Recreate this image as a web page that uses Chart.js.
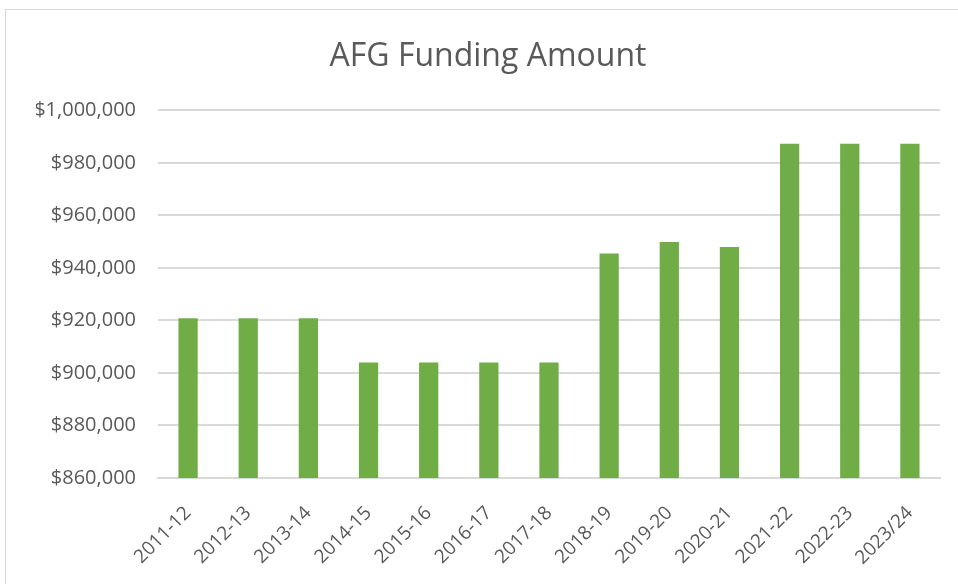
<!DOCTYPE html>
<html>
<head>
<meta charset="utf-8">
<script src="https://cdn.jsdelivr.net/npm/chart.js@4"></script>
<style>
  body { margin: 0; background: #fff; }
  #frame { position: absolute; left: 5px; top: 9px; width: 960px; height: 590px; border: 1px solid #d9d9d9; }
  #wrap { position: absolute; left: 0; top: 0; width: 958px; height: 584px; }
</style>
</head>
<body>
<div id="frame"></div>
<div id="wrap"><canvas id="fundingChart" width="958" height="584"></canvas></div>
<script>
// chart data
const years = ['2011-12', '2012-13', '2013-14', '2014-15', '2015-16', '2016-17', '2017-18',
               '2018-19', '2019-20', '2020-21', '2021-22', '2022-23', '2023/24'];
const funding = [920800, 920800, 920800, 904000, 904000, 904000, 904000,
                 945500, 949900, 948000, 987300, 987300, 987300];
const yMin = 860000, yMax = 1000000, yStep = 20000;

const textColor = '#595959';
const gridColor = '#d9d9d9';
const fontFamily = "'Open Sans', 'Noto Sans', sans-serif";

const ctx = document.getElementById('fundingChart').getContext('2d');
const fundingChart = new Chart(ctx, {
    type: 'bar',
    data: {
        labels: years,
        datasets: [{
            label: 'AFG Funding Amount',
            data: funding,
            backgroundColor: '#70ad47',
            borderWidth: 0,
            barPercentage: 0.32,
            categoryPercentage: 1
        }]
    },
    options: {
        responsive: false,
        animation: false,
        layout: { padding: { left: 36, right: 18, top: 0, bottom: 0 } },
        plugins: {
            legend: { display: false },
            tooltip: { enabled: false },
            title: {
                display: true,
                text: 'AFG Funding Amount',
                color: textColor,
                font: { family: fontFamily, size: 32, weight: 'normal' },
                padding: { top: 38, bottom: 34 }
            }
        },
        scales: {
            x: {
                grid: { display: false },
                border: { display: true, color: gridColor, width: 2 },
                ticks: {
                    color: textColor,
                    font: { family: fontFamily, size: 19 },
                    minRotation: 45,
                    maxRotation: 45,
                    padding: 16
                },
                afterFit: s => { s.height = 106; }
            },
            y: {
                min: yMin,
                max: yMax,
                grid: { color: gridColor, lineWidth: 2, drawTicks: false },
                border: { display: false },
                ticks: {
                    stepSize: yStep,
                    color: textColor,
                    padding: 22,
                    font: { family: fontFamily, size: 20 },
                    callback: v => '$' + v.toLocaleString('en-US')
                },
                afterFit: s => { s.width = 122; }
            }
        }
    }
});
</script>
</body>
</html>
